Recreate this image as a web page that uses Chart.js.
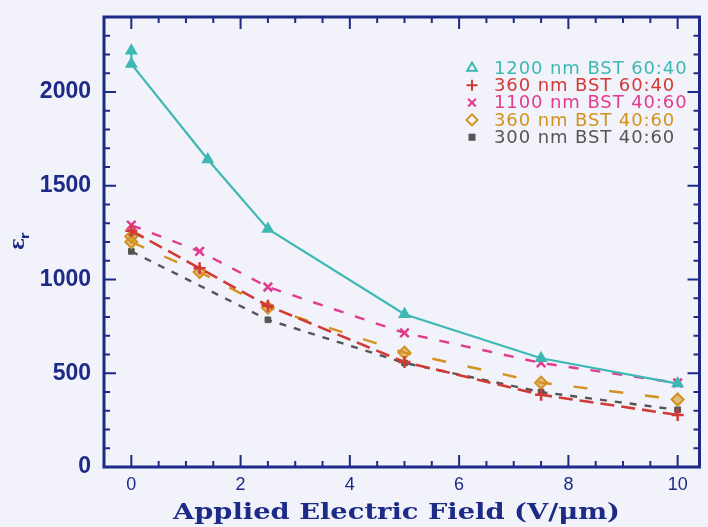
<!DOCTYPE html>
<html>
<head>
<meta charset="utf-8">
<script src="https://cdn.jsdelivr.net/npm/chart.js@4.4.1/dist/chart.umd.min.js"></script>
<style>
html,body{margin:0;padding:0;background:#f1f2fa;}
#wrap{width:708px;height:527px;position:relative;}
</style>
</head>
<body>
<div id="wrap"><canvas id="c" width="708" height="527"></canvas></div>
<script>
// ---- data ----
const seriesLabels = ["1200 nm BST 60:40","360 nm BST 60:40","1100 nm BST 40:60","360 nm BST 40:60","300 nm BST 40:60"];
const xCyan   = [0, 0, 1.4, 2.5, 5, 7.5, 10];
const yCyan   = [2220, 2150, 1640, 1270, 815, 580, 445];
const xRed    = [0, 1.25, 2.5, 5, 7.5, 10];
const yRed    = [1260, 1060, 860, 560, 385, 278];
const xPink   = [0, 1.25, 2.5, 5, 7.5, 10];
const yPink   = [1290, 1150, 960, 715, 555, 448];
const xOrange = [0, 0, 1.25, 2.5, 5, 7.5, 10];
const yOrange = [1230, 1200, 1040, 850, 610, 450, 360];
const xGray   = [0, 0, 2.5, 5, 7.5, 10];
const yGray   = [1250, 1150, 785, 555, 400, 305];
const xTicks  = [0, 2, 4, 6, 8, 10];
const yTicks  = [0, 500, 1000, 1500, 2000];
const xMinorStep = 0.5;
const yMinorStep = 100;
const xTitle = "Applied Electric Field (V/\u03bcm)";

const AXIS = "#1d2b86";
const toPts = (xs, ys) => xs.map((x, i) => ({x: x, y: ys[i]}));
const hideVertical = { borderColor: ctx => ctx.p0.parsed.x === ctx.p1.parsed.x ? 'rgba(0,0,0,0)' : undefined };

const datasets = [
  {label: seriesLabels[0], data: toPts(xCyan, yCyan), borderColor: "#3db8b2", backgroundColor: "#3db8b2",
   borderWidth: 2.2, pointStyle: "triangle", pointRadius: 6, pointBorderWidth: 1.5, legendFill: false, legendStyle: "triangle"},
  {label: seriesLabels[1], data: toPts(xRed, yRed), borderColor: "#d23a36", backgroundColor: "#d23a36",
   borderWidth: 2.6, borderDash: [14, 7], pointStyle: "cross", pointRadius: 6, pointBorderWidth: 2.5, segment: hideVertical, legendStyle: "cross"},
  {label: seriesLabels[2], data: toPts(xPink, yPink), borderColor: "#e23c8e", backgroundColor: "#e23c8e",
   borderWidth: 2.4, borderDash: [10, 12], pointStyle: "crossRot", pointRadius: 6, pointBorderWidth: 2.5, segment: hideVertical, legendStyle: "crossRot"},
  {label: seriesLabels[3], data: toPts(xOrange, yOrange), borderColor: "#d3921f", backgroundColor: "rgba(211,146,31,0.55)",
   borderWidth: 2.4, borderDash: [14, 22], pointStyle: "rectRot", pointRadius: 6, pointBorderWidth: 2, segment: hideVertical, legendStyle: "rectRot", legendFill: false},
  {label: seriesLabels[4], data: toPts(xGray, yGray), borderColor: "#555555", backgroundColor: "#555555",
   borderWidth: 2.4, borderDash: [7, 8], pointStyle: "rect", pointRadius: 4, pointBorderWidth: 1, segment: hideVertical, legendStyle: "rect", legendFill: true}
];
datasets.forEach(d => { d.pointBackgroundColor = d.backgroundColor; d.pointBorderColor = d.borderColor; d.tension = 0; d.showLine = true; });

const framePlugin = {
  id: "frame",
  afterDatasetsDraw(chart) {
    const {ctx, chartArea: a, scales: {x, y}} = chart;
    ctx.save();
    ctx.strokeStyle = AXIS;
    ctx.lineWidth = 2;
    ctx.beginPath();
    for (let v = Math.ceil(x.min / xMinorStep) * xMinorStep; v <= x.max + 1e-9; v += xMinorStep) {
      const px = x.getPixelForValue(v);
      const major = xTicks.some(t => Math.abs(t - v) < 1e-9);
      const len = major ? 12 : 6;
      ctx.moveTo(px, a.bottom); ctx.lineTo(px, a.bottom - len);
      ctx.moveTo(px, a.top); ctx.lineTo(px, a.top + len);
    }
    for (let v = 0; v <= y.max + 1e-9; v += yMinorStep) {
      const py = y.getPixelForValue(v);
      const major = yTicks.some(t => Math.abs(t - v) < 1e-9);
      const len = major ? 12 : 6;
      ctx.moveTo(a.left, py); ctx.lineTo(a.left + len, py);
      ctx.moveTo(a.right, py); ctx.lineTo(a.right - len, py);
    }
    ctx.stroke();
    ctx.lineWidth = 3;
    ctx.strokeRect(a.left, a.top, a.right - a.left, a.bottom - a.top);
    ctx.restore();
  },
  afterDraw(chart) {
    const {ctx, chartArea: a} = chart;
    ctx.save();
    // legend
    const lx = a.left + 368, ly0 = a.top + 51, step = 17.3;
    chart.data.datasets.forEach((d, i) => {
      const yy = ly0 + i * step;
      ctx.strokeStyle = d.borderColor;
      ctx.fillStyle = d.legendFill ? d.borderColor : "rgba(0,0,0,0)";
      ctx.lineWidth = 2;
      Chart.helpers.drawPoint(ctx, {pointStyle: d.legendStyle, radius: d.legendStyle === "rect" ? 3.5 : 5.5, borderWidth: 2, rotation: 0}, lx, yy);
      ctx.fillStyle = d.borderColor;
      ctx.font = "18px 'DejaVu Sans'";
      ctx.letterSpacing = "0.9px";
      ctx.textBaseline = "middle";
      ctx.textAlign = "left";
      ctx.fillText(d.label, lx + 22, yy + 1);
    });
    ctx.letterSpacing = "0px";
    // x-axis title, stretched to the reference width
    ctx.save();
    ctx.font = "bold 22px 'DejaVu Serif'";
    ctx.fillStyle = AXIS;
    ctx.textAlign = "left";
    ctx.textBaseline = "alphabetic";
    const w = ctx.measureText(xTitle).width;
    const target = 447;
    ctx.translate(173, 519);
    ctx.scale(target / w, 1);
    ctx.fillText(xTitle, 0, 0);
    ctx.restore();
    // y-axis label epsilon_r (rotated)
    ctx.translate(20, 244);
    ctx.rotate(-Math.PI / 2);
    ctx.fillStyle = AXIS;
    ctx.textBaseline = "alphabetic";
    ctx.font = "bold 20px 'DejaVu Serif'";
    ctx.fillText("\u03b5", -6, 4);
    ctx.font = "bold 13px 'DejaVu Sans'";
    ctx.fillText("r", 5, 9);
    ctx.restore();
  }
};

new Chart(document.getElementById("c"), {
  type: "scatter",
  data: {datasets},
  options: {
    responsive: false,
    animation: false,
    layout: {padding: {top: 17, right: 4, left: 0, bottom: 0}},
    plugins: {legend: {display: false}, tooltip: {enabled: false}},
    scales: {
      x: {
        type: "linear", min: -0.5, max: 10.4,
        afterBuildTicks: s => { s.ticks = xTicks.map(v => ({value: v})); },
        afterFit: s => { s.height = 60; s.paddingLeft = 0; s.paddingRight = 0; s.paddingTop = 0; s.paddingBottom = 0; },
        grid: {display: false, drawTicks: false},
        border: {display: false},
        ticks: {color: AXIS, font: {family: "'Liberation Sans'", size: 18}, padding: 7, callback: v => String(v)}
      },
      y: {
        type: "linear", min: 0, max: 2400,
        afterBuildTicks: s => { s.ticks = yTicks.map(v => ({value: v})); },
        afterFit: s => { s.width = 104; s.paddingLeft = 0; s.paddingRight = 0; s.paddingTop = 0; s.paddingBottom = 0; },
        grid: {display: false, drawTicks: false},
        border: {display: false},
        ticks: {color: AXIS, font: {family: "'Liberation Sans'", size: 23, weight: "bold"}, padding: 13, callback: v => String(v)}
      }
    }
  },
  plugins: [framePlugin]
});
</script>
</body>
</html>
